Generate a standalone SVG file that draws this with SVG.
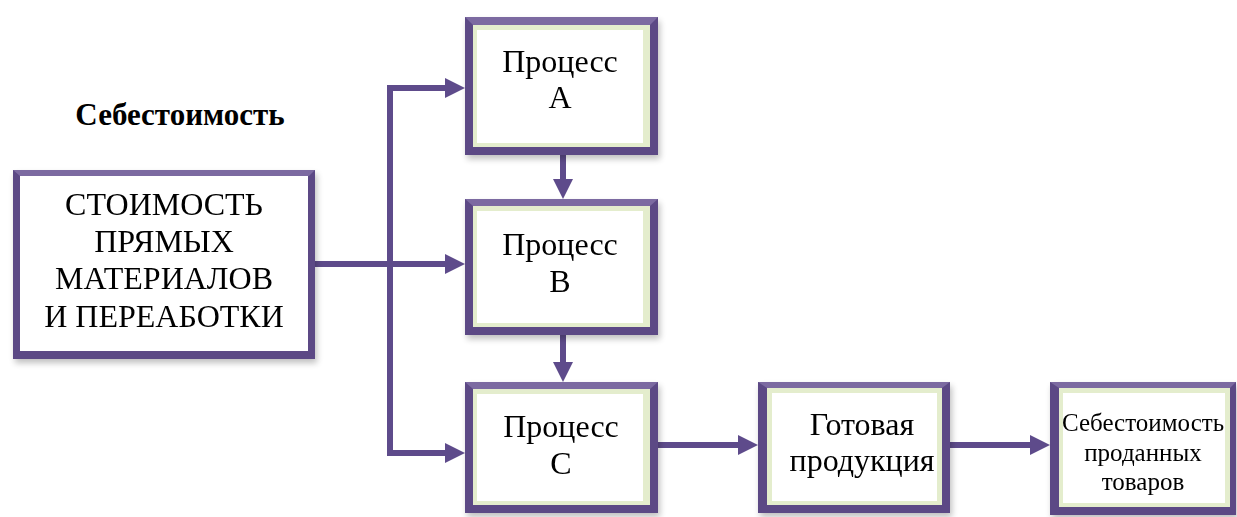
<svg xmlns="http://www.w3.org/2000/svg" width="1237" height="517" viewBox="0 0 1237 517">
<style>
text{font-family:'Liberation Serif','Times New Roman','DejaVu Serif',serif;fill:#000;text-anchor:middle}
.big{font-size:32px}
.sm{font-size:25px}
.title{font-size:31px;font-weight:bold}
.con{fill:none;stroke:#5e4b8b;stroke-width:6;stroke-linejoin:miter}
.outer{fill:#5c4985}
.topb{fill:#7b6aa1}
.green{fill:#e4edcd}
.white{fill:#fff}
</style>
<defs>
<marker id="ah" markerUnits="userSpaceOnUse" markerWidth="20" markerHeight="20" refX="14" refY="10" orient="auto">
<path d="M0,0 L20,10 L0,20 z" fill="#5e4b8b"/>
</marker>
<filter id="sh" x="-5%" y="-5%" width="115%" height="120%">
<feGaussianBlur in="SourceAlpha" stdDeviation="3"/>
<feOffset dx="2" dy="4"/>
<feComponentTransfer><feFuncA type="linear" slope="0.25"/></feComponentTransfer>
<feMerge><feMergeNode/><feMergeNode in="SourceGraphic"/></feMerge>
</filter>
</defs>
<rect width="1237" height="517" fill="#fff"/>

<g id="title">
<text class="title" font-family="Liberation Serif" x="180" y="125">Себестоимость</text>
</g>

<g id="connectors">
<path class="con" d="M387,88 H459" marker-end="url(#ah)"/>
<path class="con" d="M390,85 V453 H459" marker-end="url(#ah)"/>
<path class="con" d="M315,264 H459" marker-end="url(#ah)"/>
<path class="con" d="M563,155 V193" marker-end="url(#ah)"/>
<path class="con" d="M563,335 V376" marker-end="url(#ah)"/>
<path class="con" d="M658,445 H752" marker-end="url(#ah)"/>
<path class="con" d="M950,445 H1044" marker-end="url(#ah)"/>
</g>

<g id="node-costs" filter="url(#sh)">
<rect class="outer" x="13" y="170" width="302" height="189"/>
<polygon class="topb" points="13,170 315,170 309,176 20,176"/>
<rect class="white" x="20" y="176" width="288" height="175"/>
<text class="big" font-family="Liberation Serif" x="164" y="215">СТОИМОСТЬ</text>
<text class="big" font-family="Liberation Serif" x="164" y="252">ПРЯМЫХ</text>
<text class="big" font-family="Liberation Serif" x="164" y="289">МАТЕРИАЛОВ</text>
<text class="big" font-family="Liberation Serif" x="164" y="327">И ПЕРЕАБОТКИ</text>
</g>

<g id="node-a" filter="url(#sh)">
<rect class="outer" x="465" y="17" width="193" height="138"/>
<polygon class="topb" points="465,17 658,17 650,25 473,25"/>
<rect class="green" x="473" y="25" width="177" height="122"/>
<rect class="white" x="477" y="30" width="166" height="113"/>
<text class="big" font-family="Liberation Serif" x="560" y="72">Процесс</text>
<text class="big" font-family="Liberation Serif" x="560" y="108">А</text>
</g>

<g id="node-b" filter="url(#sh)">
<rect class="outer" x="465" y="199" width="193" height="136"/>
<polygon class="topb" points="465,199 658,199 650,206 473,206"/>
<rect class="green" x="473" y="206" width="177" height="121"/>
<rect class="white" x="477" y="211" width="166" height="112"/>
<text class="big" font-family="Liberation Serif" x="560" y="255">Процесс</text>
<text class="big" font-family="Liberation Serif" x="560" y="292">В</text>
</g>

<g id="node-c" filter="url(#sh)">
<rect class="outer" x="465" y="382" width="193" height="131"/>
<polygon class="topb" points="465,382 658,382 650,389 473,389"/>
<rect class="green" x="473" y="389" width="177" height="116"/>
<rect class="white" x="477" y="394" width="166" height="107"/>
<text class="big" font-family="Liberation Serif" x="561" y="437">Процесс</text>
<text class="big" font-family="Liberation Serif" x="561" y="474">С</text>
</g>

<g id="node-finished" filter="url(#sh)">
<rect class="outer" x="758" y="382" width="192" height="131"/>
<polygon class="topb" points="758,382 950,382 942,388 767,388"/>
<rect class="green" x="767" y="388" width="175" height="117"/>
<rect class="white" x="772" y="393" width="165" height="108"/>
<text class="big" font-family="Liberation Serif" x="862" y="435">Готовая</text>
<text class="big" font-family="Liberation Serif" x="862" y="471">продукция</text>
</g>

<g id="node-cogs" filter="url(#sh)">
<rect class="outer" x="1050" y="382" width="186" height="133"/>
<polygon class="topb" points="1050,382 1236,382 1230,388 1059,388"/>
<rect class="green" x="1059" y="388" width="171" height="119"/>
<rect class="white" x="1063" y="393" width="162" height="110"/>
<text class="sm" font-family="Liberation Serif" x="1143" y="431">Себестоимость</text>
<text class="sm" font-family="Liberation Serif" x="1143" y="461">проданных</text>
<text class="sm" font-family="Liberation Serif" x="1143" y="490">товаров</text>
</g>
</svg>
